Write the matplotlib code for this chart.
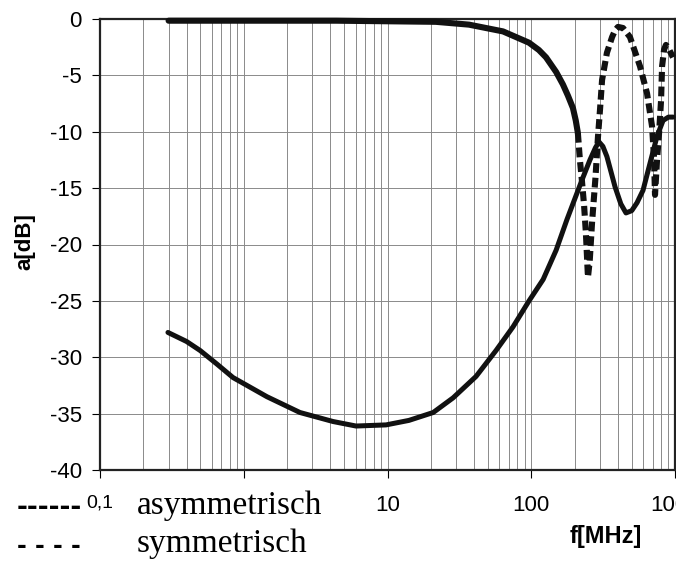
import matplotlib
matplotlib.use("Agg")
import matplotlib.pyplot as plt
import numpy as np

plt.rcParams["axes.unicode_minus"] = False

# ---- data ----
sym_f = [0.3, 1, 4.4, 10, 21.7, 36.9, 63.6, 96.4, 113, 126.7, 149, 166, 180, 195, 204, 211,
         218, 225, 233, 240, 248, 255, 265, 280, 291, 301, 311, 336, 365,
         383, 401, 435, 486, 571, 639, 692, 714, 726, 750, 775, 800, 813,
         840, 865, 893, 968]
sym_a = [-0.15, -0.15, -0.15, -0.2, -0.25, -0.5, -1.1, -2.1, -2.75, -3.4, -4.7, -5.8, -6.8, -7.9, -9.0, -10.1,
         -12.5, -14.3, -16.5, -19.0, -22.9, -21.5, -18.0, -14.0, -10.5, -8.0, -5.4, -3.0, -1.6,
         -1.0, -0.7, -0.8, -1.6, -4.2, -6.6, -9.5, -12.2, -15.6, -12.5, -10.1, -7.2, -4.2,
         -2.7, -2.3, -2.5, -3.4]
sym_split = 15  # curve looks solid up to here, dashed afterwards

asym_f = [0.297, 0.4, 0.497, 0.65, 0.842, 1.45, 2.46, 4.18, 6.04, 9.77, 14.1, 20.8, 28.6,
          41.3, 56.9, 74.7, 96.5, 121, 149, 177, 225, 256, 280, 296, 315, 336, 383, 420, 456,
          500, 544, 599, 670, 750, 826, 900, 969]
asym_a = [-27.8, -28.6, -29.4, -30.6, -31.8, -33.5, -34.9, -35.7, -36.1, -36.0, -35.6, -34.9, -33.6,
          -31.7, -29.4, -27.3, -25.0, -23.1, -20.5, -17.8, -14.3, -12.5, -11.4, -10.9, -11.3, -12.2, -14.9, -16.4, -17.2,
          -17.0, -16.3, -15.2, -12.8, -10.4, -9.0, -8.7, -8.7]

x_ticks = [0.1, 1, 10, 100, 1000]
x_ticklabels = ["0,1", "1", "10", "100", "1000"]
y_ticks = [0, -5, -10, -15, -20, -25, -30, -35, -40]

W, H = 676, 566
fig = plt.figure(figsize=(W / 100, H / 100), dpi=100)
ax = fig.add_axes([100 / W, (H - 470) / H, 575 / W, 451 / H])

ax.set_xscale("log")
ax.set_xlim(0.1, 1000)
ax.set_ylim(-40, 0)

# grid
ax.set_yticks(y_ticks)
ax.set_xticks(x_ticks)
ax.set_xticklabels(x_ticklabels)
ax.xaxis.set_minor_locator(matplotlib.ticker.LogLocator(base=10, subs=np.arange(2, 10), numticks=20))
ax.xaxis.set_minor_formatter(matplotlib.ticker.NullFormatter())
ax.grid(True, which="both", axis="x", color="#8a8a8a", lw=0.7)
ax.grid(True, which="major", axis="y", color="#8a8a8a", lw=0.7)
ax.set_axisbelow(True)

ax.tick_params(axis="x", which="major", length=6, width=0.8, pad=12, labelsize=16)
ax.tick_params(axis="x", which="minor", length=0)
ax.tick_params(axis="y", which="major", length=6, width=0.8, pad=7, labelsize=16)
for lab in ax.get_xticklabels():
    lab.set_fontfamily("Liberation Sans")
for lab in ax.get_yticklabels():
    lab.set_fontfamily("Liberation Sans")
ax.get_xticklabels()[0].set_fontsize(14)

for s in ax.spines.values():
    s.set_color("#222222")
    s.set_linewidth(1.6)

# curves
ax.plot(asym_f, asym_a, color="#111111", lw=3.6, solid_capstyle="round",
        solid_joinstyle="round", clip_on=False, zorder=3)
ax.plot(sym_f[:sym_split + 1], sym_a[:sym_split + 1], color="#111111", lw=4.4,
        solid_capstyle="round", solid_joinstyle="round", clip_on=False, zorder=3)
ax.plot(sym_f[sym_split:], sym_a[sym_split:], color="#111111", lw=4.4,
        linestyle=(0, (1.6, 0.8)), dash_capstyle="butt", clip_on=False, zorder=3)

# axis titles
def px(x, y):
    return x / W, 1 - y / H

fig.text(*px(25, 242), "a[dB]", rotation=90, ha="center", va="center",
         fontsize=16, fontweight="bold", family="Liberation Sans")
fig.text(*px(606, 537), "f[MHz]", ha="center", va="center",
         fontsize=17, fontweight="bold", family="Liberation Sans")

# legend-like texts
fig.text(*px(17, 508), "------", ha="left", va="center", fontsize=19,
         fontweight="bold", family="DejaVu Sans")
fig.text(*px(17, 546), "- - - -", ha="left", va="center", fontsize=17,
         fontweight="bold", family="DejaVu Sans")
fig.text(*px(137, 506), "asymmetrisch", ha="left", va="center", fontsize=24,
         family="Liberation Serif", zorder=5,
         bbox=dict(facecolor="white", edgecolor="none", pad=0))
fig.text(*px(137, 544), "symmetrisch", ha="left", va="center", fontsize=24,
         family="Liberation Serif")

fig.savefig("out.png", dpi=100)
